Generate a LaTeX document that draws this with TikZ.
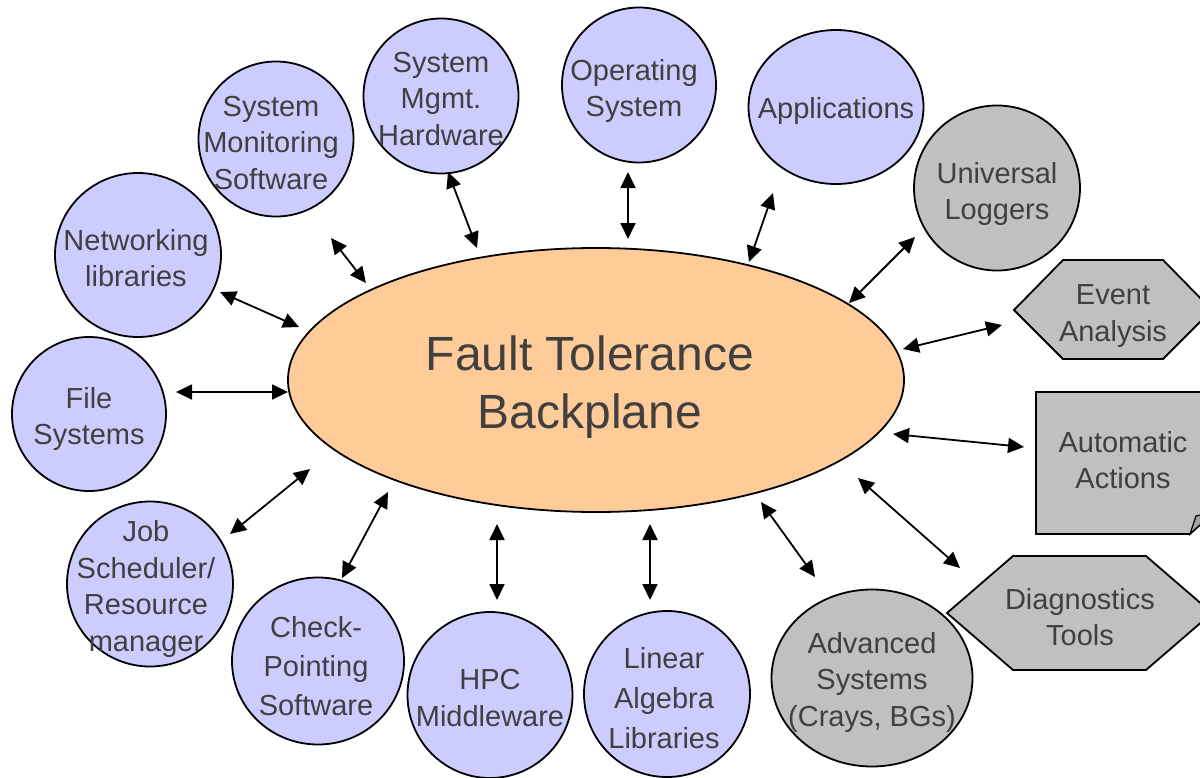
\documentclass[tikz,border=0pt]{standalone}
\usepackage{fontspec}
\setmainfont{Liberation Sans}
\usetikzlibrary{arrows.meta,shapes.geometric}
\definecolor{lav}{HTML}{CCCCFF}
\definecolor{peach}{HTML}{FFCC99}
\definecolor{ash}{HTML}{C0C0C0}
\definecolor{ink}{HTML}{404040}
\begin{document}
\begin{tikzpicture}[x=1pt,y=-1pt,
  bub/.style={ellipse, draw=black, line width=1.8pt, inner sep=0pt, fill=lav},
  grey/.style={fill=ash},
  outline/.style={draw=black, line width=1.8pt, line join=miter},
  lbl/.style={text=ink, align=center, inner sep=0pt, font=\fontsize{29}{36.5}\selectfont},
  link/.style={{Triangle[length=16pt,width=15pt]}-{Triangle[length=16pt,width=15pt]}, line width=1.8pt}
]
\useasboundingbox (0,0) rectangle (1200,777);

% central backplane
\node[ellipse, draw=black, line width=1.8pt, fill=peach, minimum width=616pt, minimum height=264pt, inner sep=0pt] (ftb) at (596,380) {};
\node[text=ink, align=center, inner sep=0pt, font=\fontsize{48}{58}\selectfont] (ftb-t) at (590,387) {Fault Tolerance\\Backplane};

% surrounding components
\node[bub, minimum width=166pt, minimum height=164pt] (net) at (138,255) {};
\node[lbl] (net-t) at (136,258) {Networking\\libraries};

\node[bub, minimum width=154pt, minimum height=154pt] (fs) at (89,414) {};
\node[lbl] (fs-t) at (89,419) {File\\Systems};

\node[bub, minimum width=155pt, minimum height=155pt] (smon) at (276,139) {};
\node[lbl] (smon-t) at (271,143) {System\\Monitoring\\Software};

\node[bub, minimum width=155pt, minimum height=155pt] (smgmt) at (441,96) {};
\node[lbl] (smgmt-t) at (441,99) {System\\Mgmt.\\Hardware};

\node[bub, minimum width=154pt, minimum height=155pt] (os) at (639,85) {};
\node[lbl] (os-t) at (634,91) {Operating\\System};

\node[bub, minimum width=175pt, minimum height=154pt] (app) at (836,107) {};
\node[lbl] (app-t) at (836,111) {Applications};

\node[bub, grey, minimum width=166pt, minimum height=165pt] (ulog) at (997,188) {};
\node[lbl] (ulog-t) at (997,194) {Universal\\Loggers};

\node[bub, minimum width=166pt, minimum height=165pt] (job) at (150,584) {};
\node[lbl] (job-t) at (146,589) {Job\\Scheduler/\\Resource\\manager};

\node[bub, minimum width=172pt, minimum height=167pt] (ckpt) at (318,661) {};
\node[lbl, font=\fontsize{29}{39}\selectfont] (ckpt-t) at (316,666) {Check-\\Pointing\\Software};

\node[bub, minimum width=165pt, minimum height=166pt] (hpc) at (490,695) {};
\node[lbl] (hpc-t) at (490,698) {HPC\\Middleware};

\node[bub, minimum width=166pt, minimum height=166pt] (lin) at (667,694) {};
\node[lbl, font=\fontsize{29}{40}\selectfont] (lin-t) at (664,698) {Linear\\Algebra\\Libraries};

\node[bub, grey, minimum width=201pt, minimum height=177pt] (adv) at (872,678) {};
\node[lbl] (adv-t) at (872,682) {Advanced\\Systems\\(Crays, BGs)};

% analysis and action shapes on the right
\draw[outline, fill=ash] (1014,310) -- (1063,260) -- (1163,260) -- (1212,310) -- (1163,359) -- (1063,359) -- cycle;
\node[lbl] (ev-t) at (1113,316) {Event\\Analysis};

\draw[outline, fill=ash] (1036,392) -- (1214,392) -- (1214,512) -- (1190,534) -- (1036,534) -- cycle;
\draw[outline, fill=ash!85!black, line width=1.2pt] (1190,534) -- (1196,516) -- (1214,512) -- cycle;
\node[lbl] (act-t) at (1123,460) {Automatic\\Actions};

\draw[outline, fill=ash] (947,613) -- (1013,556) -- (1146,556) -- (1212,613) -- (1146,670) -- (1013,670) -- cycle;
\node[lbl] (diag-t) at (1080,617) {Diagnostics\\Tools};

% connector end points
\coordinate (net-a) at (220,292);   \coordinate (net-b) at (299,327);
\coordinate (fs-a) at (176,392);    \coordinate (fs-b) at (288,392);
\coordinate (smon-a) at (331,238);  \coordinate (smon-b) at (366,283);
\coordinate (smgmt-a) at (448,172); \coordinate (smgmt-b) at (477,248);
\coordinate (os-a) at (628,172);    \coordinate (os-b) at (628,239);
\coordinate (app-a) at (773,193);   \coordinate (app-b) at (749,262);
\coordinate (ulog-a) at (915,237);  \coordinate (ulog-b) at (849,303);
\coordinate (ev-a) at (1002,325);   \coordinate (ev-b) at (903,349);
\coordinate (act-a) at (1024,447);  \coordinate (act-b) at (893,434);
\coordinate (diag-a) at (960,568);  \coordinate (diag-b) at (858,478);
\coordinate (adv-a) at (815,577);   \coordinate (adv-b) at (761,502);
\coordinate (lin-a) at (650,600);   \coordinate (lin-b) at (650,524);
\coordinate (hpc-a) at (497,600);   \coordinate (hpc-b) at (497,524);
\coordinate (ckpt-a) at (342,578);  \coordinate (ckpt-b) at (388,492);
\coordinate (job-a) at (230,534);   \coordinate (job-b) at (310,469);

% two-way connectors
\foreach \n in {net,fs,smon,smgmt,os,app,ulog,ev,act,diag,adv,lin,hpc,ckpt,job}
  \draw[link] (\n-a) -- (\n-b);
\end{tikzpicture}
\end{document}
